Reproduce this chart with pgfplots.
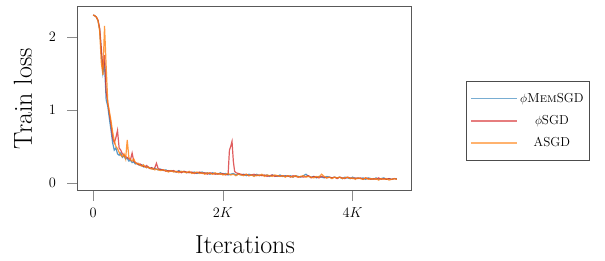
\documentclass[border=0pt]{standalone}
\usepackage{pgfplots}
\pgfplotsset{compat=1.18}
\definecolor{cblue}{HTML}{1F77B4}
\definecolor{cred}{HTML}{D62728}
\definecolor{corange}{HTML}{FF7F0E}
\begin{document}
\begin{tikzpicture}
\begin{axis}[
 scale only axis, width=334pt, height=183pt,
 xmin=-234, xmax=4914, ymin=-0.096, ymax=2.41,
 axis line style={black!65, line width=1pt},
 xtick={0,2000,4000}, xticklabels={$0$,$2K$,$4K$},
 ytick={0,1,2},
 xtick pos=bottom, ytick pos=left,
 tick align=outside, major tick length=10.5pt,
 tick style={black!45, line width=0.8pt},
 ticklabel style={font=\fontsize{14}{16}\selectfont},
 yticklabel style={xshift=-8pt},
 xticklabel style={yshift=-4pt},
 xlabel={Iterations}, ylabel={Train loss},
 label style={font=\fontsize{26}{30}\selectfont},
 xlabel style={at={(axis description cs:0.5,-0.3443)}, anchor=base},
 ylabel style={at={(axis description cs:-0.1647,0.5)}, anchor=center},
 legend style={at={(axis description cs:1.162,0.596)}, anchor=north west,
   draw=black!70, line width=0.8pt, font=\fontsize{13}{15}\selectfont,
   inner xsep=4pt, inner ysep=10pt, row sep=7.5pt},
 legend cell align=center,
 legend image code/.code={\draw[#1, line width=1.6pt, draw opacity=0.6] (0pt,0pt) -- (46pt,0pt);},
]
\addplot[cblue, line width=1.2pt, draw opacity=0.75] coordinates {
(0,2.30) (25,2.29) (50,2.27) (75,2.22) (100,2.10) (125,1.80) (150,1.50) (175,1.62) (200,1.14) (225,1.05)
(250,0.88) (275,0.72) (300,0.55) (325,0.45) (350,0.48) (375,0.40) (400,0.38) (425,0.41) (450,0.35) (475,0.37)
(500,0.33) (525,0.34) (550,0.30) (575,0.31) (600,0.28) (625,0.29) (650,0.26) (675,0.27) (700,0.25) (725,0.24)
(750,0.25) (775,0.22) (800,0.23) (825,0.21) (850,0.22) (875,0.20) (900,0.21) (925,0.19) (950,0.20) (975,0.19)
(1000,0.18)
(1040,0.19) (1080,0.17) (1120,0.18) (1160,0.16) (1200,0.17) (1240,0.16) (1280,0.15) (1320,0.17) (1360,0.15) (1400,0.16)
(1440,0.14) (1480,0.15) (1520,0.14) (1560,0.15) (1600,0.13) (1640,0.14) (1680,0.15) (1720,0.13) (1760,0.14) (1800,0.12)
(1840,0.14) (1880,0.13) (1920,0.12) (1960,0.14) (2000,0.12) (2040,0.13) (2080,0.11) (2120,0.12) (2160,0.13) (2200,0.11)
(2240,0.12) (2280,0.11) (2320,0.12) (2360,0.10) (2400,0.12) (2440,0.11) (2480,0.10) (2520,0.12) (2560,0.10) (2600,0.11)
(2640,0.10) (2680,0.11) (2720,0.09) (2760,0.11) (2800,0.10) (2840,0.09) (2880,0.11) (2920,0.09) (2960,0.10) (3000,0.09)
(3040,0.10) (3080,0.08) (3120,0.10) (3160,0.09) (3200,0.08) (3240,0.10) (3280,0.12) (3320,0.09) (3360,0.08) (3400,0.09)
(3440,0.07) (3480,0.09) (3520,0.08) (3560,0.07) (3600,0.09) (3640,0.08) (3680,0.07) (3720,0.08) (3760,0.07) (3800,0.08)
(3840,0.06) (3880,0.08) (3920,0.07) (3960,0.06) (4000,0.08) (4040,0.06) (4080,0.07) (4120,0.06) (4160,0.07) (4200,0.05)
(4240,0.07) (4280,0.06) (4320,0.05) (4360,0.07) (4400,0.05) (4440,0.06) (4480,0.07) (4520,0.05) (4560,0.06) (4600,0.05)
(4640,0.06) (4680,0.06)
};
\addlegendentry{$\phi$\textsc{Mem}SGD}
\addplot[cred, line width=1.2pt, draw opacity=0.75] coordinates {
(0,2.30) (25,2.29) (50,2.27) (75,2.23) (100,2.12) (125,1.85) (150,1.55) (175,1.75) (200,1.25) (225,1.10)
(250,0.95) (275,0.80) (300,0.62) (325,0.55) (350,0.62) (375,0.72) (400,0.48) (425,0.45) (450,0.40) (475,0.38)
(500,0.36) (525,0.35) (550,0.33) (575,0.32) (600,0.41) (625,0.30) (650,0.28) (675,0.27) (700,0.25) (725,0.26)
(750,0.24) (775,0.23) (800,0.22) (825,0.24) (850,0.21) (875,0.20) (900,0.21) (925,0.19) (950,0.21) (975,0.27)
(1000,0.20)
(1040,0.18) (1080,0.18) (1120,0.16) (1160,0.17) (1200,0.16) (1240,0.17) (1280,0.15) (1320,0.16) (1360,0.14) (1400,0.16)
(1440,0.15) (1480,0.14) (1520,0.15) (1560,0.13) (1600,0.14) (1640,0.15) (1680,0.13) (1720,0.14) (1760,0.12) (1800,0.14)
(1840,0.13) (1880,0.12) (1920,0.13) (1960,0.12) (2000,0.13) (2040,0.11) (2080,0.12) (2100,0.45) (2120,0.50) (2140,0.57)
(2160,0.30) (2180,0.16) (2200,0.14) (2240,0.13) (2280,0.12)
(2320,0.11) (2360,0.12) (2400,0.10) (2440,0.11) (2480,0.12) (2520,0.10) (2560,0.11) (2600,0.10)
(2640,0.11) (2680,0.09) (2720,0.10) (2760,0.11) (2800,0.09) (2840,0.10) (2880,0.09) (2920,0.10) (2960,0.09) (3000,0.10)
(3040,0.08) (3080,0.10) (3120,0.09) (3160,0.08) (3200,0.09) (3240,0.08) (3280,0.09) (3320,0.10) (3360,0.07) (3400,0.09)
(3440,0.08) (3480,0.07) (3520,0.09) (3560,0.08) (3600,0.07) (3640,0.08) (3680,0.07) (3720,0.08) (3760,0.06) (3800,0.08)
(3840,0.07) (3880,0.06) (3920,0.08) (3960,0.07) (4000,0.06) (4040,0.07) (4080,0.06) (4120,0.07) (4160,0.05) (4200,0.07)
(4240,0.06) (4280,0.05) (4320,0.06) (4360,0.05) (4400,0.07) (4440,0.05) (4480,0.06) (4520,0.05) (4560,0.06) (4600,0.05)
(4640,0.06) (4680,0.05)
};
\addlegendentry{$\phi$SGD}
\addplot[corange, line width=1.2pt, draw opacity=0.8] coordinates {
(0,2.30) (25,2.29) (50,2.27) (75,2.22) (100,2.08) (125,1.65) (150,1.48) (175,2.15) (200,1.60) (225,1.10)
(250,0.98) (275,0.85) (300,0.70) (325,0.58) (350,0.50) (375,0.47) (400,0.42) (425,0.38) (450,0.36) (475,0.40)
(500,0.33) (525,0.59) (550,0.35) (575,0.32) (600,0.30) (625,0.33) (650,0.28) (675,0.26) (700,0.27) (725,0.24)
(750,0.23) (775,0.25) (800,0.22) (825,0.21) (850,0.22) (875,0.20) (900,0.19) (925,0.20) (950,0.18) (975,0.19)
(1000,0.18)
(1040,0.17) (1080,0.18) (1120,0.17) (1160,0.15) (1200,0.17) (1240,0.15) (1280,0.16) (1320,0.14) (1360,0.16) (1400,0.15)
(1440,0.14) (1480,0.16) (1520,0.13) (1560,0.14) (1600,0.15) (1640,0.13) (1680,0.14) (1720,0.12) (1760,0.14) (1800,0.13)
(1840,0.12) (1880,0.14) (1920,0.12) (1960,0.13) (2000,0.11) (2040,0.12) (2080,0.13) (2120,0.11) (2160,0.12) (2200,0.10)
(2240,0.12) (2280,0.11) (2320,0.10) (2360,0.12) (2400,0.10) (2440,0.11) (2480,0.09) (2520,0.11) (2560,0.10) (2600,0.12)
(2640,0.09) (2680,0.11) (2720,0.10) (2760,0.09) (2800,0.11) (2840,0.10) (2880,0.09) (2920,0.10) (2960,0.08) (3000,0.10)
(3040,0.09) (3080,0.08) (3120,0.10) (3160,0.08) (3200,0.09) (3240,0.10) (3280,0.08) (3320,0.09) (3360,0.08) (3400,0.07)
(3440,0.09) (3480,0.08) (3520,0.12) (3560,0.09) (3600,0.07) (3640,0.08) (3680,0.06) (3720,0.08) (3760,0.07) (3800,0.08)
(3840,0.06) (3880,0.07) (3920,0.08) (3960,0.06) (4000,0.07) (4040,0.05) (4080,0.07) (4120,0.06) (4160,0.05) (4200,0.07)
(4240,0.05) (4280,0.06) (4320,0.05) (4360,0.06) (4400,0.04) (4440,0.06) (4480,0.05) (4520,0.06) (4560,0.04) (4600,0.05)
(4640,0.06) (4680,0.05)
};
\addlegendentry{ASGD}
\end{axis}
\pgfresetboundingbox
\path ([shift={(-78pt,-70pt)}]current axis.south west) rectangle ([shift={(527pt,190pt)}]current axis.south west);
\end{tikzpicture}
\end{document}
